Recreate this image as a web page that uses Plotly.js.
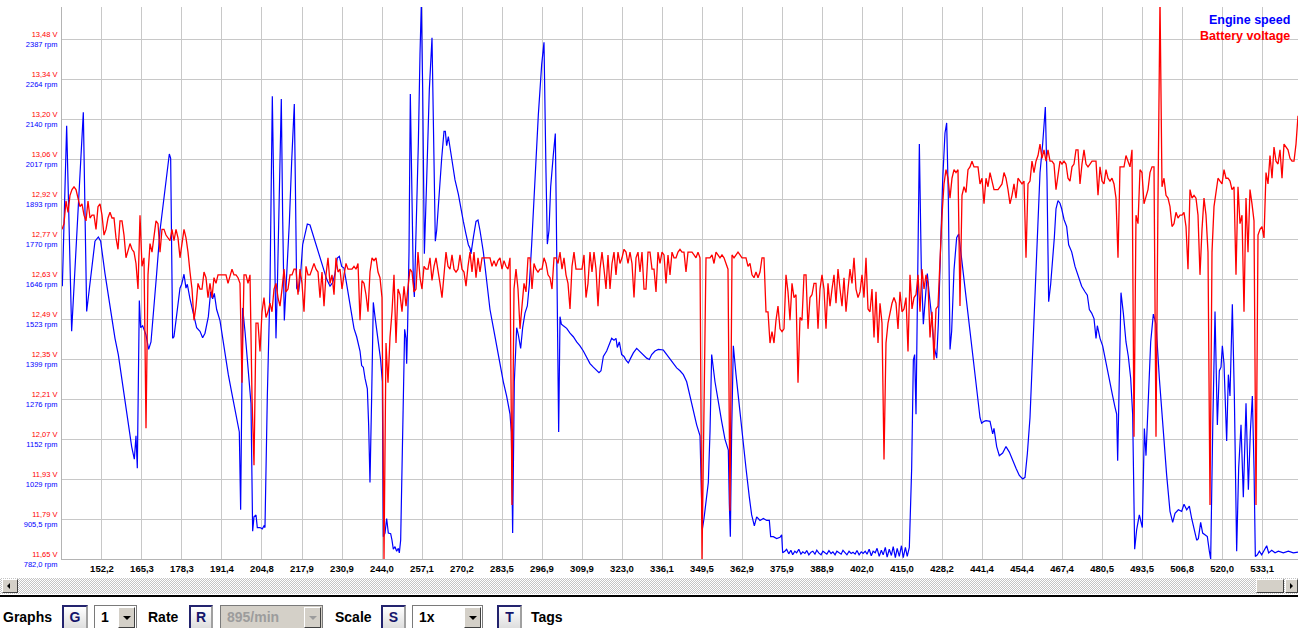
<!DOCTYPE html>
<html>
<head>
<meta charset="utf-8">
<script src="https://cdn.plot.ly/plotly-3.0.1.min.js"></script>
<style>
  html, body { margin:0; padding:0; background:#fff; }
  body { width:1298px; height:628px; overflow:hidden; position:relative; font-family:"Liberation Sans", Arial, sans-serif; }
  #chart { position:absolute; left:0; top:0; width:1298px; height:592px; }
  .sb { position:absolute; left:0; top:578px; width:1298px; height:16px;
        background: repeating-conic-gradient(#c4c4c4 0% 25%, #ffffff 0% 50%) 0 0/2px 2px; }
  .sbbtn { position:absolute; top:579px; height:14px; background:#d4d0c8; box-sizing:border-box;
        border:1px solid; border-color:#ffffff #404040 #404040 #ffffff; }
  .sep { position:absolute; left:0; top:595px; width:1298px; height:2px; background:#000; }
  .lbl { position:absolute; top:607px; font:bold 14px "Liberation Sans", Arial, sans-serif; line-height:20px; color:#000; }
  .kb { position:absolute; top:605px; height:26px; box-sizing:border-box; text-align:center;
        border:2px solid; border-color:#23236e #a0a0a0 #a0a0a0 #23236e;
        background:linear-gradient(#ffffff, #dcdcdc); color:#14146a;
        font:bold 14px "Liberation Sans", Arial, sans-serif; line-height:20px; }
  .dd { position:absolute; top:605px; height:25px; box-sizing:border-box; border:1px solid #7a7a7a;
        background:#fff; font:bold 14px "Liberation Sans", Arial, sans-serif; line-height:22px; padding-left:6px; color:#000; }
  .dd.dis { background:#d4d0c8; color:#9c9c9c; }
  .arr { position:absolute; right:1px; top:1px; width:17px; height:21px; box-sizing:border-box; background:#d4d0c8;
        border:1px solid; border-color:#ffffff #404040 #404040 #ffffff; }
  .arr:after { content:""; position:absolute; left:4px; top:8px; border-left:4px solid transparent;
        border-right:4px solid transparent; border-top:4px solid #000; }
  .dis .arr:after { border-top-color:#9c9c9c; }
</style>
</head>
<body>
<div id="chart"></div>

<div class="sb"></div>
<div class="sbbtn" style="left:2px;width:16px;"><div style="position:absolute;left:4px;top:3px;border-top:3px solid transparent;border-bottom:3px solid transparent;border-right:3px solid #000;"></div></div>
<div class="sbbtn" style="left:1256px;width:28px;"></div>
<div class="sbbtn" style="left:1285px;width:13px;"><div style="position:absolute;left:4px;top:3px;border-top:3px solid transparent;border-bottom:3px solid transparent;border-left:3px solid #000;"></div></div>
<div class="sep"></div>

<div class="lbl" style="left:3px;">Graphs</div>
<div class="kb" style="left:62px;width:26px;">G</div>
<div class="dd" style="left:94px;width:43px;">1<div class="arr"></div></div>
<div class="lbl" style="left:148px;">Rate</div>
<div class="kb" style="left:189px;width:24px;">R</div>
<div class="dd dis" style="left:220px;width:103px;">895/min<div class="arr"></div></div>
<div class="lbl" style="left:335px;">Scale</div>
<div class="kb" style="left:381px;width:25px;">S</div>
<div class="dd" style="left:412px;width:71px;">1x<div class="arr"></div></div>
<div class="kb" style="left:497px;width:25px;">T</div>
<div class="lbl" style="left:531px;">Tags</div>

<script>
// ---- Axis labels (as shown on the chart) ----
const voltLabels = ['11,65 V','11,79 V','11,93 V','12,07 V','12,21 V','12,35 V','12,49 V','12,63 V','12,77 V','12,92 V','13,06 V','13,20 V','13,34 V','13,48 V'];
const rpmLabels = ['782,0 rpm','905,5 rpm','1029 rpm','1152 rpm','1276 rpm','1399 rpm','1523 rpm','1646 rpm','1770 rpm','1893 rpm','2017 rpm','2140 rpm','2264 rpm','2387 rpm'];
const timeLabels = ['152,2','165,3','178,3','191,4','204,8','217,9','230,9','244,0','257,1','270,2','283,5','296,9','309,9','323,0','336,1','349,5','362,9','375,9','388,9','402,0','415,0','428,2','441,4','454,4','467,4','480,5','493,5','506,8','520,0','533,1'];

// ---- Engine speed (rpm) vs time (s) ----
const engineTime = [
139.18,140.60,142.24,146.07,147.17,148.26,148.81,149.90,151.00,151.76,153.19,154.28,155.37,156.47,157.56,158.66,159.75,160.85,161.94,162.82,
163.36,163.80,164.46,164.90,165.55,166.65,167.52,168.29,169.06,170.15,171.25,172.34,173.22,174.31,174.75,175.40,175.84,176.72,177.81,178.36,
179.13,179.78,180.22,181.10,182.19,183.28,184.38,185.25,186.02,187.12,187.88,188.54,189.08,189.85,190.95,191.82,192.59,193.68,194.78,195.87,
197.29,197.73,198.39,199.15,200.25,201.12,201.67,202.11,202.77,203.20,204.08,204.84,205.39,205.72,206.49,207.36,208.13,209.00,209.33,209.77,
210.65,211.08,211.52,212.07,212.62,213.71,214.48,215.35,215.68,216.12,216.78,217.43,218.09,218.86,219.62,220.50,221.59,222.69,223.78,224.88,
225.97,227.07,227.94,228.71,229.47,230.13,230.90,231.66,232.32,233.19,234.18,234.94,235.82,236.92,237.46,238.01,238.56,239.33,239.76,240.20,
240.75,241.29,241.84,242.94,243.70,244.25,244.58,245.13,245.67,246.22,246.99,247.42,247.86,248.41,248.96,249.50,249.83,250.27,250.71,251.15,
251.58,252.02,252.24,252.57,253.01,253.44,253.99,254.43,254.76,255.19,256.07,256.62,257.06,257.50,258.05,258.81,259.68,260.56,261.00,261.65,
262.09,263.18,263.74,264.50,264.94,265.37,265.92,267.02,268.11,269.21,269.97,270.85,271.72,272.49,273.04,273.36,274.13,275.01,275.66,276.32,
277.41,278.51,279.60,280.70,281.79,282.89,283.98,285.07,286.17,286.61,287.04,287.59,288.36,288.91,289.67,290.33,291.09,291.86,292.52,293.28,
294.38,295.47,296.57,297.33,297.99,298.43,298.97,299.52,300.40,301.05,301.38,301.71,302.15,302.59,303.03,303.68,304.78,305.87,306.96,308.06,
309.15,310.25,311.34,312.44,313.53,314.63,315.39,316.05,316.82,317.91,318.79,319.55,320.32,320.98,321.41,322.07,322.83,323.60,324.26,325.02,
325.79,326.67,327.76,328.64,329.95,331.05,331.92,332.69,333.78,334.88,336.52,337.62,338.71,339.80,340.90,341.99,343.09,344.18,345.27,346.37,
347.46,348.56,348.99,349.32,349.87,350.53,351.29,351.84,352.39,353.48,354.58,355.67,356.77,357.86,358.19,358.52,358.95,359.50,360.38,361.47,
362.57,363.66,364.75,365.52,366.40,367.16,368.26,369.35,370.45,371.32,371.76,372.63,373.73,374.83,375.37,375.70,
376.4,377.0,377.7,378.4,379.0,379.7,380.3,381.0,381.7,382.3,383.0,383.6,384.3,385.0,385.6,386.3,386.9,387.6,388.3,388.9,
389.6,390.2,390.9,391.6,392.2,392.9,393.5,394.2,394.9,395.5,396.2,396.8,397.5,398.2,398.8,399.5,400.1,400.8,401.5,402.1,
402.8,403.4,404.1,404.8,405.4,406.1,406.7,407.4,408.1,408.7,409.4,410.0,410.7,411.4,412.0,412.7,413.3,414.0,414.7,415.3,
416.0,416.6,
417.29,418.06,418.61,419.04,419.48,419.92,420.58,421.23,421.89,422.44,423.20,423.86,424.62,425.39,426.27,426.81,427.58,428.24,429.00,429.55,
430.10,430.65,431.19,431.96,432.83,433.49,434.48,435.57,436.66,437.76,438.85,439.73,440.50,441.04,441.81,442.47,443.78,444.66,445.09,445.97,
446.84,447.94,449.03,450.13,451.22,452.32,453.41,454.51,455.27,456.04,456.91,457.68,458.56,459.32,460.20,461.07,461.95,462.50,463.04,463.70,
464.36,464.90,465.45,466.11,466.76,467.31,468.08,468.95,469.61,470.60,471.69,472.79,473.88,474.97,475.74,476.40,477.16,477.93,478.59,479.02,
479.90,480.77,481.54,482.31,483.18,484.06,484.82,485.37,485.70,486.25,486.79,487.56,488.43,489.20,489.97,490.62,491.28,491.94,492.81,493.80,
494.46,495.00,495.77,496.54,497.41,498.29,499.38,500.48,501.79,502.88,503.76,504.53,505.62,506.71,507.48,508.36,509.23,510.00,510.76,511.64,
512.19,512.95,513.61,514.38,515.14,515.80,516.24,516.89,517.66,518.43,519.08,519.63,520.07,520.61,521.49,522.04,522.58,523.35,524.01,524.77,
525.43,526.20,526.96,527.84,528.61,529.26,529.92,530.47,530.90,531.56,532.22,532.98,533.75,534.63,535.28,536.27,537.37,538.46,540.10,541.74,
543.38,544.91];
const engineRpm = [
1624,2119,1485,2161,1546,1630,1680,1763,1776,1763,1663,1596,1530,1463,1413,1340,1274,1207,1129,1090,
1162,1062,1580,1496,1502,1474,1429,1452,1530,1663,1796,1885,1941,2032,2019,1463,1468,1530,1618,1630,
1661,1618,1630,1585,1541,1496,1485,1465,1479,1530,1607,1585,1602,1552,1518,1463,1418,1351,1296,1240,
1174,934,1557,1485,1374,1263,868,912,918,879,879,875,884,879,1285,1618,2210,1641,1463,1618,
2052,2202,1841,1518,1618,1819,2008,2186,1952,1618,1607,1663,1752,1785,1816,1813,1780,1741,1713,1674,
1646,1624,1635,1663,1711,1716,1685,1680,1641,1585,1530,1494,1468,1424,1379,1374,1340,1307,1196,1018,
1285,1574,1530,1452,1396,1329,851,862,907,862,860,840,812,820,806,815,801,840,1062,1307,
1491,1463,1385,1507,1730,2217,1841,1641,1591,1730,2063,2341,2497,2230,1724,1952,2230,2391,2175,1763,
1796,1952,2019,2102,2102,2058,2086,2019,1952,1908,1863,1824,1785,1752,1741,1724,1774,1824,1828,1796,
1730,1641,1552,1496,1440,1374,1329,1285,1229,1174,862,1329,1496,1474,1432,1496,1541,1563,1630,1752,
1974,2152,2308,2377,1974,1754,1796,1930,2030,2095,1841,1507,1174,1530,1507,1502,1494,1479,1468,1452,
1440,1424,1402,1385,1374,1363,1357,1363,1407,1424,1446,1463,1457,1463,1435,1452,1413,1407,1396,1387,
1402,1418,1432,1424,1413,1402,1398,1413,1424,1429,1427,1413,1398,1387,1372,1363,1351,1329,1285,1240,
1196,1162,1007,873,907,951,1018,1174,1413,1329,1263,1207,1151,1118,951,851,1174,1440,1351,1251,
1151,1062,973,918,884,912,901,907,901,901,851,851,845,849,857,801,
806,812,798,809,795,806,801,812,797,804,799,808,795,803,806,797,809,800,795,806,
801,797,808,799,804,795,806,801,797,809,800,795,806,799,803,797,808,795,804,799,
806,797,812,792,806,801,815,790,809,795,818,788,812,793,820,786,815,790,823,786,
818,790,
818,1062,1396,1413,1229,1563,2063,1674,1507,1574,1663,1596,1530,1440,1402,1507,1730,1952,2097,2128,
1897,1429,1485,1674,1774,1785,1707,1618,1530,1429,1351,1274,1218,1201,1207,1209,1207,1168,1185,1129,
1101,1109,1129,1112,1085,1062,1040,1029,1034,1107,1218,1396,1563,1785,1974,2063,2177,1952,1576,1630,
1696,1774,1863,1888,1880,1863,1830,1808,1752,1730,1685,1652,1624,1607,1596,1552,1541,1524,1463,1502,
1463,1440,1402,1363,1318,1285,1251,1229,1085,1396,1604,1541,1452,1407,1340,1229,812,873,918,879,
1185,1101,1285,1452,1538,1507,1340,1196,1040,929,895,923,934,929,951,934,945,907,873,840,
845,895,862,857,851,806,782,1174,1546,1196,1363,1374,1440,1385,1146,1351,1285,1568,1285,806,
1062,1196,973,1263,996,1174,1285,1062,790,795,806,795,809,823,801,809,801,806,801,806,
801,803];

// ---- Battery voltage (V), logged at a fixed sample interval ----
const voltStart = 139.07;   // s, first sample
const voltStep = 0.6567;    // s, sample interval
const batteryVoltage = [
12.81,12.83,12.91,12.87,12.93,12.95,12.96,12.95,12.92,12.89,12.90,12.86,12.84,12.91,12.85,12.86,12.86,12.81,12.89,12.90,
12.86,12.79,12.81,12.85,12.87,12.85,12.85,12.78,12.74,12.84,12.84,12.79,12.71,12.74,12.76,12.74,12.73,12.69,12.60,12.86,
12.68,12.71,12.11,12.65,12.76,12.73,12.78,12.84,12.83,12.73,12.81,12.81,12.79,12.78,12.77,12.81,12.77,12.81,12.78,12.71,
12.76,12.81,12.78,12.73,12.66,12.60,12.49,12.54,12.62,12.60,12.60,12.66,12.64,12.57,12.62,12.57,12.64,12.62,12.65,12.65,
12.65,12.65,12.65,12.62,12.65,12.67,12.65,12.65,12.64,12.62,12.27,12.65,12.65,12.62,12.65,12.22,11.98,12.48,12.48,12.38,
12.52,12.57,12.50,12.52,12.55,12.52,12.60,12.62,12.57,12.54,12.60,12.67,12.59,12.60,12.65,12.65,12.67,12.67,12.58,12.67,
12.62,12.52,12.68,12.65,12.65,12.67,12.69,12.67,12.66,12.57,12.66,12.54,12.65,12.71,12.62,12.65,12.58,12.71,12.66,12.67,
12.60,12.65,12.69,12.67,12.67,12.67,12.68,12.67,12.69,12.49,12.63,12.62,12.58,12.52,12.66,
12.71,12.70,12.71,12.66,12.64,12.57,11.65,12.41,12.27,12.43,12.52,12.65,12.41,12.60,12.58,12.52,12.61,12.54,12.60,12.67,
12.66,12.59,12.60,12.73,12.64,12.60,12.68,12.67,12.67,12.71,12.63,12.68,12.71,12.67,12.62,12.57,12.66,12.73,12.68,12.67,
12.72,12.67,12.66,12.67,12.72,12.67,12.66,12.61,12.68,12.73,12.66,12.73,12.64,12.71,12.66,12.71,12.71,12.71,12.71,12.71,
12.68,12.70,12.68,12.70,12.71,12.67,12.70,12.68,12.67,12.71,11.84,12.60,12.67,12.60,12.46,12.55,12.62,12.59,12.71,12.71,
12.60,12.69,12.67,12.66,12.67,12.67,12.71,12.69,12.65,12.64,12.60,12.71,12.71,12.69,12.73,12.67,12.71,12.65,12.62,12.53,
12.68,12.73,12.67,12.67,12.67,12.67,12.72,12.57,12.62,12.73,12.66,12.73,12.67,12.54,12.67,12.73,12.67,12.60,12.72,12.60,
12.69,12.73,12.65,12.73,12.69,12.71,12.74,12.73,12.69,12.73,12.69,12.57,12.71,12.73,12.66,12.73,12.60,12.60,12.73,12.73,
12.67,12.67,12.59,12.73,12.69,12.73,12.72,12.62,12.72,12.65,12.73,12.71,12.71,12.73,12.74,
12.73,12.73,12.66,12.73,12.73,12.73,12.72,12.71,12.73,12.71,11.65,12.10,12.71,12.71,12.71,12.72,12.69,12.73,12.72,12.71,
12.72,12.71,12.69,12.67,11.82,12.72,12.71,12.72,12.73,12.72,12.71,12.71,12.71,12.68,12.69,12.65,12.64,12.66,12.64,12.66,
12.71,12.71,12.52,12.52,12.41,12.45,12.41,12.49,12.54,12.46,12.45,12.46,12.65,12.59,12.49,12.62,12.57,12.58,12.27,12.50,
12.49,12.65,12.65,12.46,12.57,12.58,12.62,12.62,12.46,12.60,12.65,12.60,12.46,12.62,12.54,12.60,12.65,12.55,12.67,12.60,
12.54,12.64,12.52,12.60,12.67,12.62,12.71,12.60,12.57,12.59,12.65,12.57,12.71,12.53,12.52,12.60,12.43,12.59,12.41,12.55,
12.48,12.00,12.41,12.48,12.52,12.55,12.57,12.55,12.46,12.59,12.52,12.53,12.57,12.38,12.65,12.53,12.57,12.58,12.65,12.52,
12.67,12.60,12.65,12.62,12.43,12.52,12.35,12.53,12.54,12.73,12.86,12.97,13.02,12.99,12.92,12.99,13.02,13.01,13.02,12.54,
12.93,12.96,12.94,13.02,13.03,13.05,13.03,13.03,13.03,12.97,12.99,12.90,12.99,12.96,13.01,
12.98,12.95,12.95,12.95,12.96,12.97,13.01,12.99,12.95,12.90,12.93,12.97,12.92,12.99,12.98,12.97,12.98,12.71,12.97,12.98,
13.05,13.01,13.05,13.07,13.11,13.06,13.09,13.05,13.09,13.05,13.05,13.04,12.95,13.01,13.05,13.04,13.05,13.04,12.99,12.98,
13.03,13.04,13.09,13.09,12.97,13.04,13.09,13.04,13.03,13.04,13.05,13.05,13.05,12.93,13.03,12.98,12.97,13.02,12.99,12.98,
12.99,12.97,12.92,12.71,13.03,13.03,13.03,13.07,13.05,13.03,13.09,12.08,12.86,12.83,13.02,13.01,12.90,12.93,12.95,13.01,
13.03,13.03,12.08,12.92,13.62,12.96,12.99,12.93,12.92,12.89,12.82,12.83,12.87,12.85,12.86,12.86,12.87,12.82,12.67,12.95,
12.92,12.93,12.92,12.86,12.65,12.81,12.92,12.86,12.73,11.84,12.73,12.89,12.95,12.99,12.98,12.97,13.02,12.99,12.99,12.98,
12.95,12.96,12.65,12.96,12.83,12.86,12.52,12.92,12.73,12.95,12.90,12.84,11.84,12.79,12.81,12.82,12.78,13.01,12.97,13.07,
12.99,13.10,13.05,13.04,13.09,12.99,13.11,13.10,13.09,13.06,13.05,13.05,13.11,13.21];

// ---- Axis configuration ----
const timeMin = 139.07, timeMax = 544.91;
const tickStart = 152.2, tickStep = (533.1 - 152.2) / 29;
const rpmMin = 782.0, rpmStep = (2387 - 782) / 13;
const voltMin = 11.65, voltStep13 = (13.48 - 11.65) / 13;
const gridSteps = 13.8; // visible height in grid divisions

const voltTime = batteryVoltage.map((v, i) => voltStart + i * voltStep);
const tickVals = timeLabels.map((_, i) => tickStart + i * tickStep);
const rpmTickVals = rpmLabels.map((_, i) => rpmMin + i * rpmStep);
const yTickText = rpmLabels.map((r, i) =>
  '<span style="color:#ff0000">' + voltLabels[i] + '</span><br><span style="color:#0000ff">' + r + '</span>');

const traces = [
  { x: engineTime, y: engineRpm, type: 'scatter', mode: 'lines', name: 'Engine speed',
    line: { color: '#0000ff', width: 1.2 }, yaxis: 'y', hoverinfo: 'skip' },
  { x: voltTime, y: batteryVoltage, type: 'scatter', mode: 'lines', name: 'Battery voltage',
    line: { color: '#ff0000', width: 1.3 }, yaxis: 'y2', hoverinfo: 'skip' }
];

const layout = {
  width: 1298, height: 592,
  margin: { l: 62, r: 0, t: 7, b: 33, pad: 0 },
  paper_bgcolor: '#ffffff', plot_bgcolor: '#ffffff',
  showlegend: false,
  font: { family: '"Liberation Sans", Arial, sans-serif', color: '#000' },
  xaxis: {
    range: [timeMin, timeMax], tickmode: 'array', tickvals: tickVals, ticktext: timeLabels,
    showgrid: true, gridcolor: '#c8c8c8', gridwidth: 1, zeroline: false,
    showline: true, linecolor: '#b4b4b4', linewidth: 1, ticks: '', ticklabelstandoff: 1,
    tickfont: { size: 9.5, color: '#000', weight: 'bold' }
  },
  yaxis: {
    range: [rpmMin, rpmMin + gridSteps * rpmStep], tickmode: 'array', tickvals: rpmTickVals, ticktext: yTickText,
    showgrid: true, gridcolor: '#c8c8c8', gridwidth: 1, zeroline: false,
    showline: true, linecolor: '#b4b4b4', linewidth: 1, ticks: '', ticklabelstandoff: 2,
    tickfont: { size: 7.5, color: '#0000ff' }
  },
  yaxis2: {
    range: [voltMin, voltMin + gridSteps * voltStep13], overlaying: 'y', side: 'left',
    showgrid: false, zeroline: false, showticklabels: false, showline: false, ticks: ''
  },
  annotations: [
    { xref: 'paper', yref: 'paper', x: 1, y: 1.0, xanchor: 'right', yanchor: 'top', xshift: -6, yshift: -4,
      text: '<b>Engine speed</b>', showarrow: false, font: { size: 12.5, color: '#0000ff' } },
    { xref: 'paper', yref: 'paper', x: 1, y: 1.0, xanchor: 'right', yanchor: 'top', xshift: -6, yshift: -20,
      text: '<b>Battery voltage</b>', showarrow: false, font: { size: 12.5, color: '#ff0000' } }
  ]
};

Plotly.newPlot('chart', traces, layout, { displayModeBar: false, staticPlot: true });
</script>
</body>
</html>
